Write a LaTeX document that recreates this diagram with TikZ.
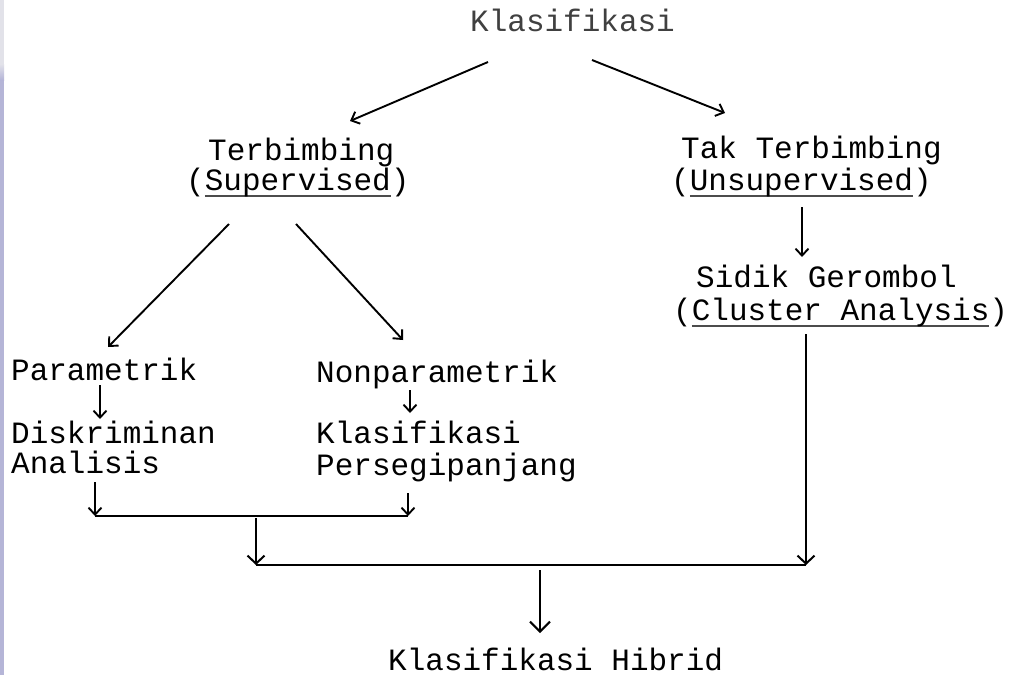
\documentclass[tikz,border=0pt]{standalone}
\usepackage{fontspec}
\newfontfamily\typ{Liberation Mono}
\usetikzlibrary{arrows.meta}

% underlined word, typewriter style
\newcommand\ulword[1]{\setbox0\hbox{#1}\rlap{\textcolor{black!70}{\rule[-6.5pt]{\wd0}{1.2pt}}}\box0}

\begin{document}
\begin{tikzpicture}[x=1pt,y=-1pt,
  txt/.style={anchor=base west, inner sep=0pt, font=\typ\fontsize{31}{37}\selectfont},
  arr/.style={-{Straight Barb[length=7pt,width=13pt]}, line width=1.9pt},
  midarr/.style={-{Straight Barb[length=8pt,width=17pt]}, line width=2pt},
  bigarr/.style={-{Straight Barb[length=10pt,width=20pt]}, line width=2pt},
  bar/.style={line width=2.2pt}]

% page
\useasboundingbox (0,0) rectangle (1021,675);
\fill[white] (0,0) rectangle (1021,675);
\fill[blue!30!gray!45] (0,80) rectangle (4,675);
\fill[blue!15!gray!20] (0,0) rectangle (4,64);
\shade[top color=blue!15!gray!20, bottom color=blue!30!gray!45] (0,64) rectangle (4,80);

% texts
\node[txt, text=black!75] (kla) at (470,31) {Klasifikasi};
\node[txt] (terb) at (208,160) {Terbimbing};
\node[txt] (sup)  at (186,190) {(\ulword{Supervised})};
\node[txt] (tak)  at (681,158) {Tak Terbimbing};
\node[txt] (uns)  at (671,190) {(\ulword{Unsupervised})};
\node[txt] (sid)  at (696,287) {Sidik Gerombol};
\node[txt] (clu)  at (673,320) {(\ulword{Cluster Analysis})};
\node[txt] (par)  at (11,380)  {Parametrik};
\node[txt] (dis)  at (11,443)  {Diskriminan};
\node[txt] (ana)  at (11,473)  {Analisis};
\node[txt] (non)  at (316,382) {Nonparametrik};
\node[txt] (kl2)  at (316,443) {Klasifikasi};
\node[txt] (per)  at (316,475) {Persegipanjang};
\node[txt] (hib)  at (388,670) {Klasifikasi Hibrid};

% junction points of the collecting bars
\coordinate (b1l) at (95,516);
\coordinate (b1r) at (408,516);
\coordinate (b1m) at (256,518);
\coordinate (b2l) at (256,565);
\coordinate (b2r) at (806,565);
\coordinate (b2m) at (540,570);

% branches from the root
\draw[arr] ([shift={(18,31)}]kla.base west) -- ([shift={(142,-39)}]terb.base west);
\draw[arr] ([shift={(122,29)}]kla.base west) -- ([shift={(44,-45)}]tak.base west);

% supervised branch
\draw[arr] ([shift={(43,34)}]sup.base west) -- ([shift={(97,-33)}]par.base west);
\draw[arr] ([shift={(110,34)}]sup.base west) -- ([shift={(87,-42)}]non.base west);
\draw[arr] ([shift={(89,5)}]par.base west) -- ([shift={(89,-24)}]dis.base west);
\draw[arr] ([shift={(94,8)}]non.base west) -- ([shift={(94,-30)}]kl2.base west);

% unsupervised branch
\draw[arr] ([shift={(131,17)}]uns.base west) -- ([shift={(106,-30)}]sid.base west);

% collecting bars
\draw[arr] ([shift={(84,9)}]ana.base west) -- (b1l);
\draw[arr] ([shift={(92,18)}]per.base west) -- (b1r);
\draw[bar] (b1l) -- (b1r);
\draw[midarr] (b1m) -- (b2l);
\draw[midarr] ([shift={(133,14)}]clu.base west) -- (b2r);
\draw[bar] (b2l) -- (b2r);
\draw[bigarr] (b2m) -- ([shift={(152,-37)}]hib.base west);

\end{tikzpicture}
\end{document}
